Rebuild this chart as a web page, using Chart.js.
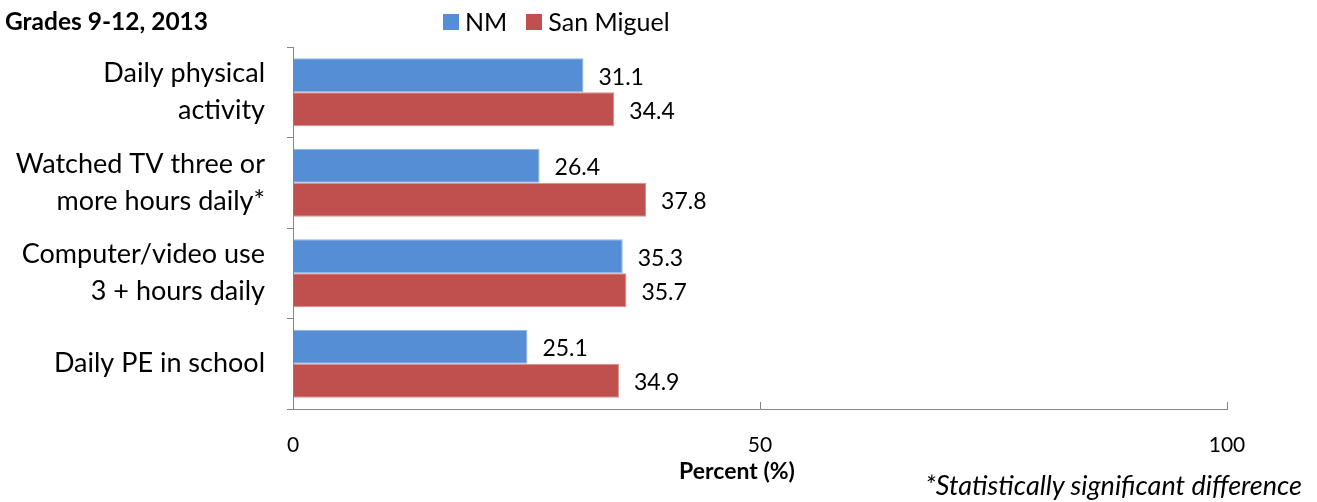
<!DOCTYPE html>
<html>
<head>
<meta charset="utf-8">
<script src="https://cdn.jsdelivr.net/npm/chart.js@4/dist/chart.umd.min.js"></script>
<style>
  html, body { margin: 0; padding: 0; background: #fff; }
  body { width: 1317px; height: 502px; position: relative; overflow: hidden; font-family: Lato, "Open Sans", sans-serif; }
  #wrap { position: absolute; left: 0; top: 0; width: 1317px; height: 502px; }
  .title { position: absolute; left: 5px; top: 9px; line-height: 1; font-weight: bold; font-size: 24.5px; color: #000; }
  .legend { position: absolute; left: 443px; top: 9px; line-height: 1; font-size: 25px; color: #000; display: flex; align-items: center; }
  .legend span.box { display: inline-block; width: 16px; height: 16px; margin-right: 6px; }
  .legend span.lbl { margin-right: 19px; }
  .xtitle { position: absolute; left: 637px; width: 200px; top: 459px; line-height: 1; text-align: center; font-weight: bold; font-size: 23px; color: #000; }
  .note { position: absolute; right: 15px; top: 471px; line-height: 1; font-style: italic; font-size: 27px; color: #000; }
</style>
</head>
<body>
<div id="wrap"><canvas id="chart" width="1317" height="502"></canvas></div>
<div class="title">Grades 9-12, 2013</div>
<div class="legend">
  <span class="box" style="background:#558ED5"></span><span class="lbl">NM</span>
  <span class="box" style="background:#C0504D"></span><span class="lbl">San Miguel</span>
</div>
<div class="xtitle">Percent (%)</div>
<div class="note">*Statistically significant difference</div>
<script>
// Data
const categories = [
    ["Daily physical", "activity"],
    ["Watched TV three or", "more hours daily*"],
    ["Computer/video use", "3 + hours daily"],
    "Daily PE in school"
];
const seriesNames = ["NM", "San Miguel"];
const nmValues = [31.1, 26.4, 35.3, 25.1];
const sanMiguelValues = [34.4, 37.8, 35.7, 34.9];
const xTicks = [0, 50, 100];

const FONT = "Lato, 'Open Sans', sans-serif";

// value labels at the end of each bar
const valueLabels = {
    id: "valueLabels",
    afterDatasetsDraw(chart) {
        const ctx = chart.ctx;
        ctx.save();
        ctx.font = "23px " + FONT;
        ctx.fillStyle = "#000";
        ctx.textAlign = "left";
        ctx.textBaseline = "middle";
        chart.data.datasets.forEach((ds, i) => {
            chart.getDatasetMeta(i).data.forEach((bar, j) => {
                ctx.fillText(ds.data[j].toFixed(1), bar.x + 15, bar.y + 2);
            });
        });
        ctx.restore();
    }
};

// x tick marks pointing up into the plot
const innerTicks = {
    id: "innerTicks",
    afterDraw(chart) {
        const ctx = chart.ctx;
        const x = chart.scales.x;
        const bottom = chart.chartArea.bottom;
        ctx.save();
        ctx.strokeStyle = "#868686";
        ctx.lineWidth = 1;
        xTicks.forEach(v => {
            const px = Math.round(x.getPixelForValue(v)) + 0.5;
            ctx.beginPath();
            ctx.moveTo(px, bottom);
            ctx.lineTo(px, bottom - 7);
            ctx.stroke();
        });
        ctx.restore();
    }
};

new Chart(document.getElementById("chart"), {
    type: "bar",
    data: {
        labels: categories,
        datasets: [
            {
                label: seriesNames[0],
                data: nmValues,
                backgroundColor: "#558ED5",
                borderColor: "#8FB3E3",
                borderWidth: 1,
                categoryPercentage: 0.75,
                barPercentage: 1
            },
            {
                label: seriesNames[1],
                data: sanMiguelValues,
                backgroundColor: "#C0504D",
                borderColor: "#D98C8A",
                borderWidth: 1,
                categoryPercentage: 0.75,
                barPercentage: 1
            }
        ]
    },
    options: {
        indexAxis: "y",
        responsive: false,
        animation: false,
        layout: { padding: { top: 47, right: 90, left: 0, bottom: 0 } },
        scales: {
            x: {
                min: 0,
                max: 100,
                afterBuildTicks: s => { s.ticks = xTicks.map(v => ({ value: v })); },
                afterFit: s => { s.height = 93; },
                grid: { drawOnChartArea: false, drawTicks: false },
                border: { color: "#868686", width: 1 },
                ticks: { color: "#000", font: { size: 21, family: FONT }, padding: 24, maxRotation: 0 }
            },
            y: {
                afterFit: s => { s.width = 293; },
                grid: { drawOnChartArea: false, offset: true, tickLength: 6, color: "#868686" },
                border: { color: "#868686", width: 1 },
                ticks: { color: "#000", font: { size: 27, family: FONT, lineHeight: 1.37 }, padding: 22 }
            }
        },
        plugins: {
            legend: { display: false },
            tooltip: { enabled: false }
        }
    },
    plugins: [valueLabels, innerTicks]
});
</script>
</body>
</html>
